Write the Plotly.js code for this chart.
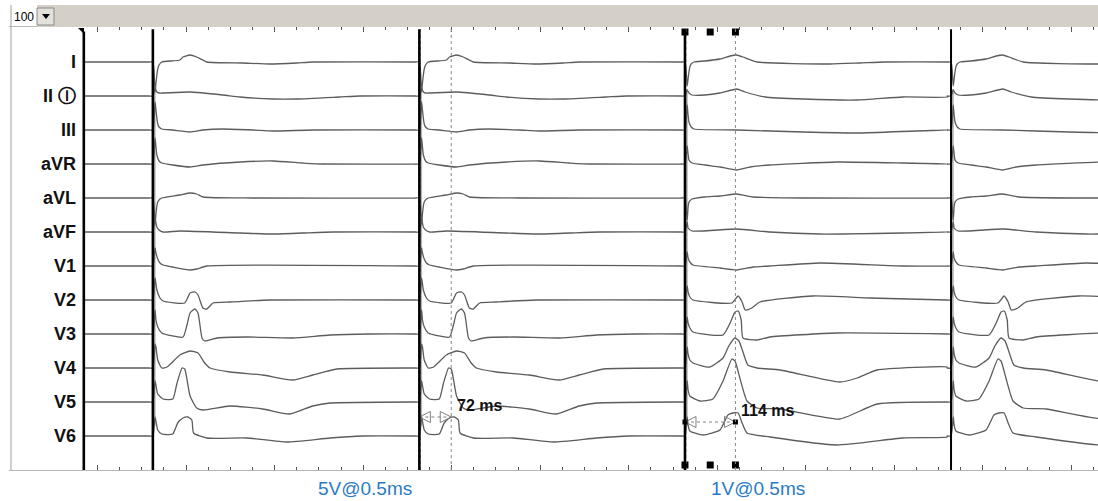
<!DOCTYPE html>
<html>
<head>
<meta charset="utf-8">
<script src="https://cdn.plot.ly/plotly-3.0.1.min.js"></script>
<style>
html,body{margin:0;padding:0;background:#fff;}
#chart{width:1098px;height:501px;}
</style>
</head>
<body>
<div id="chart"></div>
<script>
// ---------------- DATA ----------------
const leadNames  = ['I','II','III','aVR','aVL','aVF','V1','V2','V3','V4','V5','V6'];
const leadLabels = ['I','II \u24BE','III','aVR','aVL','aVF','V1','V2','V3','V4','V5','V6'];
const paceTimes  = [325, 927, 1527, 2128];     // ms, stimulus artifacts
const beatKinds  = ['A', 'A', 'B', 'B'];        // A = 5V capture, B = 1V capture
const traceStart = 169;                         // ms, first recorded sample
const preStimulus = [-9, 0];                    // flat baseline just before each stimulus [ms, amplitude]
const caliperBeats     = [1, 2];                // beat index of each caliper
const caliperIntervals = [72, 114];             // ms, stimulus-to-QRS
const stimLabels = ['5V@0.5ms', '1V@0.5ms'];
const gainLabel  = '100';

// beat templates: [ms after stimulus, amplitude]
const I_A   = [[0,0],[5,-30],[7,-21],[9,-13],[11,-7],[14,-3],[20,0],[61,2],[68,5],[84,7],[99,5],[122,0],[203,-1],[264,-2],[325,-1],[361,0],[594,0]];
const II_A  = [[0,0],[5,8],[7,6],[9,4],[14,3],[23,3],[84,4],[158,1],[197,-1],[271,-3],[325,-3],[422,-1],[468,0],[594,0]];
const III_A = [[0,0],[5,28],[7,20],[9,12],[11,6],[14,3],[20,1],[45,0],[84,-2],[113,0],[158,1],[226,0],[271,-1],[361,0],[594,0]];
const aVR_A = [[0,0],[5,26],[7,17],[9,9],[14,3],[20,1],[45,-1],[84,-3],[113,-1],[197,2],[271,3],[339,1],[384,0],[594,0]];
const aVL_A = [[0,0],[5,-26],[7,-16],[9,-8],[11,-4],[16,-1],[20,0],[61,3],[84,5],[99,4],[113,1],[226,0],[594,0]];
const aVF_A = [[0,0],[5,14],[7,9],[9,5],[14,2],[23,0],[61,1],[197,-1],[271,-2],[339,-1],[407,0],[594,0]];
const V1_A  = [[0,0],[5,18],[7,13],[11,7],[16,3],[23,1],[45,-1],[84,-4],[99,-3],[122,0],[594,0]];
const V2_A  = [[0,0],[5,22],[9,10],[16,2],[23,-1],[72,-3],[84,7],[95,8],[102,5],[113,-8],[122,-9],[136,-3],[174,-2],[264,0],[594,0]];
const V3_A  = [[0,0],[5,24],[7,14],[11,7],[20,1],[68,-3],[77,9],[84,21],[95,25],[102,21],[111,-4],[117,-7],[145,-4],[212,-3],[316,-4],[400,-1],[490,0],[594,0]];
const V4_A  = [[0,0],[5,24],[7,21],[11,8],[20,0],[32,1],[61,13],[84,17],[102,15],[117,5],[129,0],[174,-4],[248,-7],[316,-12],[361,-7],[416,-1],[594,0]];
const V5_A  = [[0,0],[5,21],[11,8],[23,3],[45,3],[54,18],[66,34],[72,33],[84,6],[99,-6],[113,-8],[174,-4],[248,-7],[309,-12],[361,-4],[400,-1],[594,0]];
const V6_A  = [[0,0],[5,19],[11,6],[20,2],[45,2],[56,13],[68,18],[79,19],[88,16],[92,3],[122,-2],[212,-2],[303,-6],[400,-2],[474,0],[594,0]];

const I_B   = [[0,0],[5,-24],[7,-17],[9,-10],[11,-5],[14,-2],[20,0],[45,1],[79,3],[102,6],[117,7],[131,5],[163,0],[328,-2],[395,-1],[452,0],[594,0]];
const II_B  = [[0,0],[5,6],[9,3],[16,1],[45,1],[79,3],[117,7],[136,4],[181,-1],[267,-3],[389,-4],[492,-1],[594,-1]];
const III_B = [[0,0],[5,25],[7,15],[9,8],[14,3],[20,1],[117,0],[267,-2],[389,-3],[520,-1],[594,0]];
const aVR_B = [[0,0],[5,18],[7,10],[9,4],[16,1],[45,-1],[79,-3],[117,-6],[147,-3],[192,-1],[343,2],[492,1],[594,0]];
const aVL_B = [[0,0],[5,-22],[7,-9],[9,-4],[16,-1],[45,1],[79,2],[117,4],[154,1],[271,0],[594,0]];
const aVF_B = [[0,0],[5,10],[7,4],[16,1],[117,3],[192,0],[305,-2],[492,-1],[594,0]];
const V1_B  = [[0,0],[5,14],[7,8],[11,4],[18,1],[79,-2],[117,-4],[154,-1],[192,0],[305,3],[492,0],[594,0]];
const V2_B  = [[0,0],[5,14],[7,8],[11,3],[18,0],[106,-3],[120,4],[129,-2],[136,-10],[151,-8],[169,-2],[289,4],[418,2],[592,0]];
const V3_B  = [[0,0],[5,17],[7,11],[11,6],[18,2],[86,-1],[102,11],[113,22],[120,23],[127,14],[131,-4],[163,-6],[192,-3],[343,1],[592,0]];
const V4_B  = [[0,0],[5,21],[7,14],[11,8],[18,5],[56,1],[86,10],[99,22],[113,30],[122,27],[131,16],[142,3],[163,0],[215,-2],[350,-14],[389,-10],[434,-2],[592,1]];
const V5_B  = [[0,0],[5,21],[7,12],[11,6],[34,1],[63,3],[86,21],[106,43],[113,41],[124,24],[140,1],[163,-6],[215,-7],[350,-17],[434,-2],[592,0]];
const V6_B  = [[0,0],[5,19],[7,11],[11,5],[41,1],[79,6],[97,21],[108,23],[120,23],[129,13],[140,3],[192,-1],[343,-9],[492,-2],[592,-1]];

// ---------------- BUILD ----------------
const templates = {
  A: [I_A, II_A, III_A, aVR_A, aVL_A, aVF_A, V1_A, V2_A, V3_A, V4_A, V5_A, V6_A],
  B: [I_B, II_B, III_B, aVR_B, aVL_B, aVF_B, V1_B, V2_B, V3_B, V4_B, V5_B, V6_B]
};

const W = 1098, H = 501;
const M = {l: 9, r: 0, t: 27, b: 31};
const plotW = W - M.l - M.r, plotH = H - M.t - M.b;
const PX = px => (px - M.l) / plotW;
const PY = py => (H - M.b - py) / plotH;

const xMax = 2460;
const yMax = 443;
const leadSpacing = 34;
const nLeads = leadNames.length;
const baseOf = i => (nLeads - i) * leadSpacing;

const traceColor = '#5c5c5c';
const data = [];

leadNames.forEach((name, i) => {
  const base = baseOf(i);
  const xs = [traceStart], ys = [base];
  paceTimes.forEach((p, k) => {
    xs.push(p + preStimulus[0]); ys.push(base + preStimulus[1]);
    templates[beatKinds[k]][i].forEach(([t, v]) => {
      xs.push(p + t); ys.push(base + v);
    });
  });
  data.push({
    type: 'scatter', mode: 'lines', x: xs, y: ys, name: name,
    line: {color: traceColor, width: 1.3, shape: 'spline', smoothing: 0.5},
    hoverinfo: 'skip', showlegend: false
  });
});

// calipers
const caliperY = [53, 48];
const annotations = [];
const shapes = [];

caliperBeats.forEach((b, c) => {
  const x0 = paceTimes[b], x1 = paceTimes[b] + caliperIntervals[c];
  data.push({
    type: 'scatter', mode: 'lines+markers', x: [x0, x1], y: [caliperY[c], caliperY[c]],
    line: {color: '#808080', width: 1, dash: 'dot'},
    marker: {symbol: ['arrow-left-open', 'arrow-right-open'], size: 11, color: '#808080', line: {width: 1, color: '#808080'}},
    hoverinfo: 'skip', showlegend: false, cliponaxis: false
  });
  shapes.push({type: 'line', xref: 'x', yref: 'paper', x0: x1, x1: x1, y0: 0, y1: 1,
    line: {color: '#888', width: 1, dash: 'dot'}});
  shapes.push({type: 'line', xref: 'x', yref: 'paper', x0: x0 + 2, x1: x0 + 2, y0: 0, y1: 1,
    line: {color: '#999', width: 1, dash: 'dot'}});
  annotations.push({
    xref: 'x', yref: 'y', x: x1 + 9, y: caliperY[c] + 12, xanchor: 'left', yanchor: 'middle',
    text: '<b>' + caliperIntervals[c] + ' ms</b>', showarrow: false,
    font: {family: 'Arial, "Liberation Sans", sans-serif', size: 16, color: '#111'}
  });
  if (c === caliperBeats.length - 1) {
    const xm = (x0 + x1) / 2;
    data.push({
      type: 'scatter', mode: 'markers', x: [x0, x1], y: [caliperY[c], caliperY[c]],
      marker: {symbol: 'square', size: 5, color: '#000'}, hoverinfo: 'skip', showlegend: false, cliponaxis: false
    });
    data.push({
      type: 'scatter', mode: 'markers', x: [x0, xm, x1, x0, xm, x1], y: [438, 438, 438, 5, 5, 5],
      marker: {symbol: 'square', size: 7, color: '#000'}, hoverinfo: 'skip', showlegend: false, cliponaxis: false
    });
  }
});

// stimulus artifacts
paceTimes.forEach((p, k) => {
  shapes.push({type: 'line', xref: 'x', yref: 'paper', x0: p + 4, x1: p + 4, y0: 0.1, y1: 0.86,
    line: {color: '#b5b5b5', width: 2}, layer: 'below'});
  shapes.push({type: 'line', xref: 'x', yref: 'paper', x0: p, x1: p, y0: 0, y1: 0.995,
    line: {color: '#000', width: k === 3 ? 2 : 2.6}});
});
// cursor line at trace start
shapes.push({type: 'line', xref: 'x', yref: 'paper', x0: traceStart, x1: traceStart, y0: 0, y1: 0.99,
  line: {color: '#000', width: 2.6}});
shapes.push({type: 'path', xref: 'paper', yref: 'paper',
  path: `M ${PX(78)} ${PY(28)} L ${PX(84)} ${PY(28)} L ${PX(84)} ${PY(34)} Z`,
  fillcolor: '#000', line: {width: 0}});

// toolbar
shapes.push({type: 'rect', xref: 'paper', yref: 'paper', x0: PX(37), x1: PX(1098), y0: PY(27), y1: PY(5),
  fillcolor: '#d4d0c8', line: {width: 0}});
shapes.push({type: 'rect', xref: 'paper', yref: 'paper', x0: PX(37), x1: PX(54), y0: PY(25), y1: PY(8),
  fillcolor: '#e4e1db', line: {color: '#8a8a8a', width: 1}});
shapes.push({type: 'path', xref: 'paper', yref: 'paper',
  path: `M ${PX(42)} ${PY(14)} L ${PX(50)} ${PY(14)} L ${PX(46)} ${PY(19)} Z`,
  fillcolor: '#000', line: {width: 0}});
shapes.push({type: 'line', xref: 'paper', yref: 'paper', x0: PX(11), x1: PX(11), y0: PY(5), y1: PY(470),
  line: {color: '#a0a0a0', width: 1}});
annotations.push({xref: 'paper', yref: 'paper', x: PX(12), y: PY(17), xanchor: 'left', yanchor: 'middle',
  text: gainLabel, showarrow: false, font: {family: 'Arial, "Liberation Sans", sans-serif', size: 12, color: '#000'}});

// lead labels
leadLabels.forEach((lab, i) => {
  annotations.push({
    xref: 'paper', yref: 'y', x: PX(78), y: baseOf(i), xanchor: 'right', yanchor: 'middle',
    text: '<b>' + lab + '</b>', showarrow: false,
    font: {family: 'Arial, "Liberation Sans", sans-serif', size: 18, color: '#111'}
  });
});

// stimulus labels
[365, 758].forEach((px, j) => {
  annotations.push({
    xref: 'paper', yref: 'paper', x: PX(px), y: PY(488), xanchor: 'center', yanchor: 'middle',
    text: stimLabels[j], showarrow: false,
    font: {family: 'Arial, "Liberation Sans", sans-serif', size: 19, color: '#2b7bc4'}
  });
});

// axis ticks (50 ms minor, 200 ms major) from first tick after trace start
const majorTicks = [], minorTicks = [];
for (let t = 200; t <= xMax; t += 200) majorTicks.push(t);
for (let t = 200; t <= xMax; t += 50) minorTicks.push(t);

const layout = {
  width: W, height: H, margin: M,
  paper_bgcolor: '#fff', plot_bgcolor: '#fff',
  showlegend: false,
  xaxis: {
    range: [0, xMax], showgrid: false, zeroline: false, showticklabels: false,
    showline: true, linecolor: '#b8b8b8', linewidth: 1, mirror: 'ticks',
    ticks: 'inside', tickmode: 'array', tickvals: majorTicks, ticklen: 5, tickcolor: '#555', tickwidth: 1,
    minor: {ticks: 'inside', tickmode: 'array', tickvals: minorTicks, ticklen: 3, tickcolor: '#555', tickwidth: 1, showgrid: false}
  },
  yaxis: {range: [0, yMax], showgrid: false, zeroline: false, showticklabels: false, showline: false, ticks: ''},
  shapes: shapes,
  annotations: annotations
};

Plotly.newPlot('chart', data, layout, {displayModeBar: false, staticPlot: true});
</script>
</body>
</html>
